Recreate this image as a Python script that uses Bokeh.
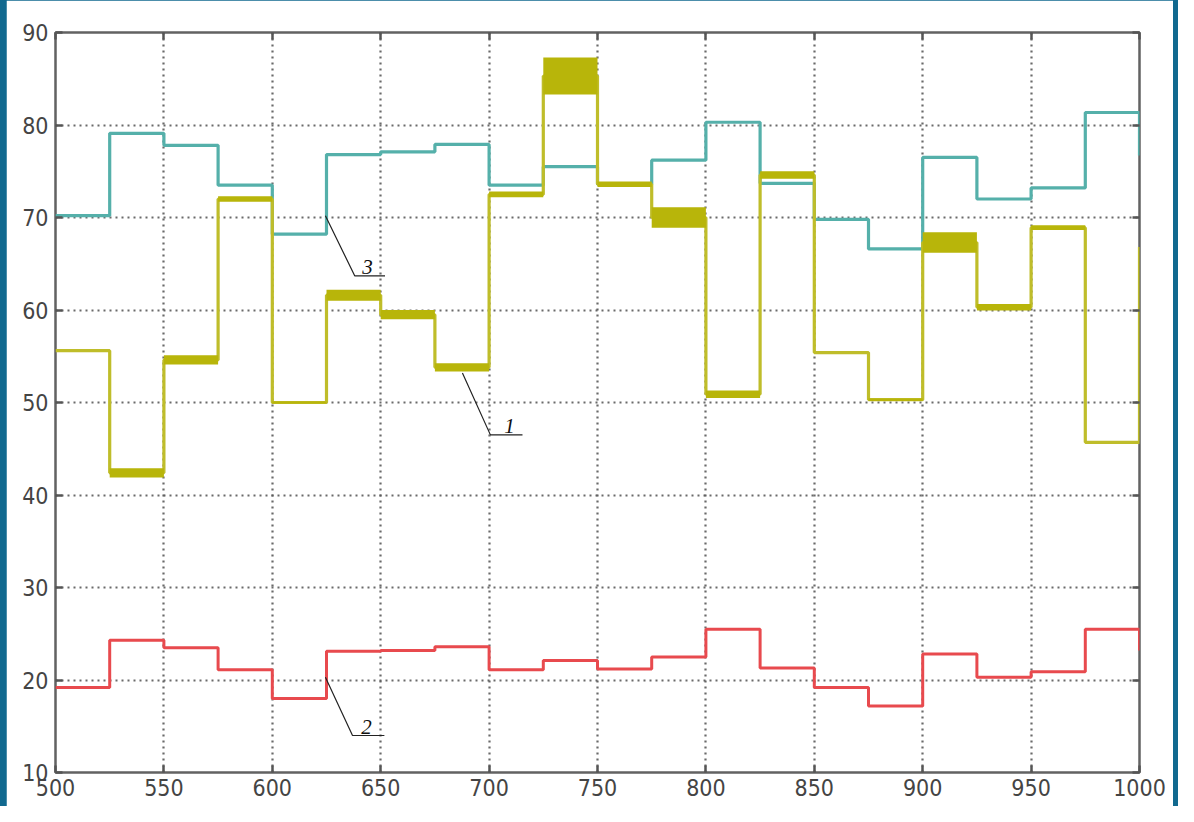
from bokeh.plotting import figure
from bokeh.models import FixedTicker, LinearAxis, Range1d, Label
from bokeh.layouts import column
from bokeh.embed import file_html
from bokeh.resources import INLINE

# ---- data ----
edges = [500, 525, 550, 575, 600, 625, 650, 675, 700, 725, 750,
         775, 800, 825, 850, 875, 900, 925, 950, 975, 1000]

# curve 1 (olive / yellow, noisy)
s1 = [55.6, 42.4, 54.6, 72.0, 50.0, 61.6, 59.5, 53.8, 72.5, 85.3,
      73.6, 70.0, 50.9, 74.6, 55.4, 50.3, 67.3, 60.3, 68.9, 45.7]
s1_end = 66.8
s1_noise = [0.0, 0.5, 0.5, 0.3, 0.1, 0.6, 0.5, 0.45, 0.3, 2.0,
            0.3, 1.1, 0.4, 0.4, 0.0, 0.15, 1.1, 0.35, 0.25, 0.0]

# curve 2 (red)
s2 = [19.2, 24.3, 23.5, 21.1, 18.0, 23.1, 23.2, 23.6, 21.1, 22.1,
      21.2, 22.5, 25.5, 21.3, 19.2, 17.2, 22.8, 20.3, 20.9, 25.5]
s2_end = 23.2

# curve 3 (teal / blue)
s3 = [70.2, 79.1, 77.8, 73.5, 68.2, 76.8, 77.1, 77.9, 73.5, 75.5,
      73.6, 76.2, 80.3, 73.7, 69.8, 66.6, 76.5, 72.0, 73.2, 81.35]
s3_end = 76.7

x_ticks = [500, 550, 600, 650, 700, 750, 800, 850, 900, 950, 1000]
y_ticks = [10, 20, 30, 40, 50, 60, 70, 80, 90]

# curve labels with leader lines
lab_names = ["3", "1", "2"]
lead_x = [[624.5, 638.0, 652.0], [687.7, 700.6, 715.4], [624.5, 637.0, 651.7]]
lead_y = [[70.2, 63.7, 63.7], [53.2, 46.5, 46.5], [20.3, 14.0, 14.0]]
lab_x = [641.5, 707.0, 641.0]
lab_y = [63.9, 46.7, 14.2]

# ---- figure ----
FRAME_BG = "#11698f"
p = figure(width=1167, height=806, output_backend="svg", toolbar_location=None,
           x_range=Range1d(500, 1000), y_range=Range1d(10, 90),
           min_border_left=49, min_border_right=34, min_border_top=32,
           min_border_bottom=34)
p.border_fill_color = "white"
p.background_fill_color = "white"
p.outline_line_color = "#626262"
p.outline_line_width = 2.5

tick_font = "DejaVu Sans Condensed, Liberation Sans, sans-serif"
for ax in [p.xaxis[0], p.yaxis[0]]:
    ax.axis_line_color = None
    ax.major_tick_in = 7
    ax.major_tick_out = 0
    ax.major_tick_line_color = "#555555"
    ax.major_tick_line_width = 2.5
    ax.minor_tick_line_color = None
    ax.major_label_text_font = tick_font
    ax.major_label_text_font_size = "23px"
    ax.major_label_text_color = "#444444"
p.xaxis.ticker = FixedTicker(ticks=x_ticks)
p.yaxis.ticker = FixedTicker(ticks=y_ticks)
p.xaxis.major_label_standoff = 6
p.yaxis.major_label_standoff = 7

for loc, tk in [("right", y_ticks), ("above", x_ticks)]:
    ax = LinearAxis(ticker=FixedTicker(ticks=tk))
    ax.axis_line_color = None
    ax.major_tick_in = 7
    ax.major_tick_out = 0
    ax.major_tick_line_color = "#555555"
    ax.major_tick_line_width = 2.5
    ax.minor_tick_line_color = None
    ax.major_label_text_font_size = "0px"
    ax.major_label_text_color = None
    p.add_layout(ax, loc)

p.xgrid.ticker = FixedTicker(ticks=x_ticks)
p.ygrid.ticker = FixedTicker(ticks=y_ticks)
for g in [p.xgrid[0], p.ygrid[0]]:
    g.grid_line_color = "#5a5a5a"
    g.grid_line_dash = "2 4"
    g.grid_line_width = 2.2
    g.grid_line_alpha = 0.9

# ---- curves ----
y1 = s1 + [s1_end]
y2 = s2 + [s2_end]
y3 = s3 + [s3_end]

p.step(edges, y3, mode="after", line_color="#55b0aa", line_width=3.2)

p.step(edges, y1, mode="after", line_color="#bfbd2a", line_width=3.2)
lo = [v - n for v, n in zip(s1, s1_noise)] + [s1_end]
hi = [v + n for v, n in zip(s1, s1_noise)] + [s1_end]
p.varea_step(x=edges, y1=lo, y2=hi, step_mode="after", fill_color="#b8b50a")

p.step(edges, y2, mode="after", line_color="#e84a4e", line_width=3.0)

for lx, ly in zip(lead_x, lead_y):
    p.line(lx, ly, line_color="#222222", line_width=1.2)
for t, tx, ty in zip(lab_names, lab_x, lab_y):
    p.add_layout(Label(x=tx, y=ty, text=t, text_font="Liberation Serif",
                       text_font_style="italic", text_font_size="21px",
                       text_color="#111111"))

page = column(p, styles={"background-color": FRAME_BG,
                         "padding": "0px 5px 0px 6px"})

open("out.html", "w").write(file_html(page, INLINE))
